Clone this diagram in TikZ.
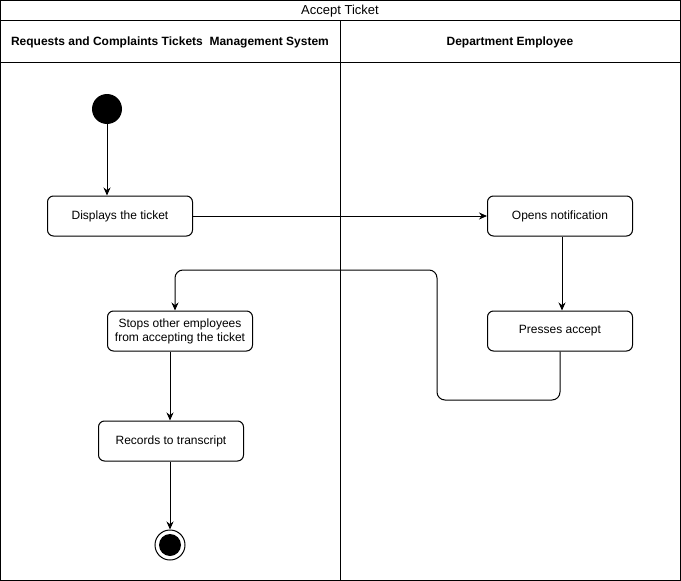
\documentclass[tikz,border=0pt]{standalone}
\usepackage{fontspec}
\setmainfont{Liberation Sans}
\usetikzlibrary{arrows.meta,positioning}
\tikzset{
  act/.style={draw, rounded corners=6pt, align=center, fill=white, line width=1pt,
    minimum width=145pt, minimum height=40pt, inner sep=2pt, font=\fontsize{12}{14}\selectfont},
  startnode/.style={circle, fill=black, minimum size=30pt, inner sep=0pt},
  endnode/.style={circle, draw, line width=1pt, minimum size=30pt, inner sep=0pt,
    path picture={\fill (path picture bounding box.center) circle (11pt);}},
  arrow/.style={-{Stealth[length=8pt,width=7pt]}, line width=1pt},
  lane/.style={line width=1pt},
  hdr/.style={font=\fontsize{12}{14}\selectfont\bfseries},
}
\begin{document}
\begin{tikzpicture}[x=1pt, y=-1pt]
  \useasboundingbox (0,0) rectangle (681,581);
  % swimlanes
  \draw[lane] (0.5,0.5) rectangle (680.5,580.5);
  \draw[lane] (0.5,20.5) -- (680.5,20.5);
  \draw[lane] (0.5,62.5) -- (680.5,62.5);
  \draw[lane] (340.5,20.5) -- (340.5,580.5);
  \node[font=\fontsize{13}{15}\selectfont] (title) at (340,11.5) {Accept Ticket};
  \node[hdr] (sysh) at (170,42.5) {Requests and Complaints Tickets\ \ Management System};
  \node[hdr] (emph) at (510,42.5) {Department Employee};

  % activities
  \node[startnode] (start) at (107,109) {};
  \node[act] (disp) at (120,216) {Displays the ticket};
  \node[act] (opens) at (560,216) {Opens notification};
  \node[act] (press) at (560,331) {Presses accept};
  \node[act] (stops) at (180,331) {Stops other employees\\from accepting the ticket};
  \node[act] (rec) at (171,441) {Records to transcript};
  \node[endnode] (stop) at (170,545) {};

  \draw[arrow] (start) -- (start |- disp.north);
  \draw[arrow] (disp) -- (opens);
  \draw[arrow] (opens.south -| 562,0) -- (press.north -| 562,0);
  \draw[arrow, rounded corners=8pt] (press.south) -- (560,400) -- (437,400)
    -- (437,270) -- (175,270) -- (stops.north -| 175,0);
  \draw[arrow] (stops.south -| 170,0) -- (rec.north -| 170,0);
  \draw[arrow] (rec.south -| 170,0) -- (stop);
\end{tikzpicture}
\end{document}
